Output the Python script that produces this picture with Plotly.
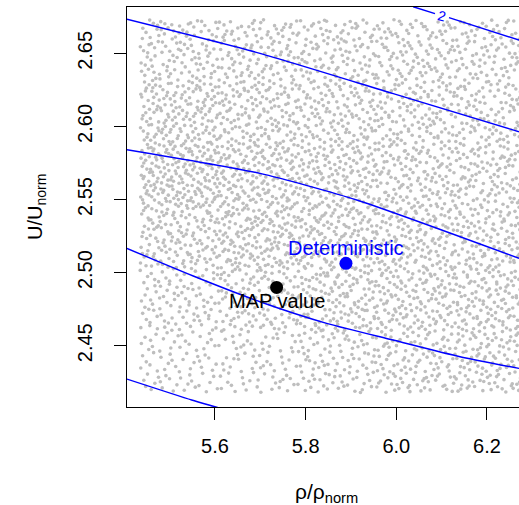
import numpy as np
import plotly.graph_objects as go

# ---------------- data ----------------
# Sample cloud: estimated point counts per cell (rows bottom -> top, columns left -> right)
cloud_rho_edges = [5.435, 5.608, 5.781, 5.954, 6.127, 6.300]
cloud_u_edges = [2.418, 2.4605, 2.503, 2.5455, 2.588, 2.6305, 2.673]
cloud_counts = [
    [72, 75, 96, 114, 127],
    [96, 114, 139, 139, 139],
    [139, 165, 152, 139, 131],
    [190, 165, 147, 131, 127],
    [152, 139, 127, 122, 114],
    [114, 114, 114, 114, 107],
]

# Contour lines (blue)
contour2_rho = [6.0372, 6.0853, None, 6.1162, 6.2706]
contour2_u = [2.6819, 2.6772, None, 2.6744, 2.6591]
contourA_rho = [5.4059, 5.6993, 5.9933, 6.2706]
contourA_u = [2.6733, 2.6500, 2.6224, 2.5964]
contourB_rho = [5.4059, 5.6993, 5.9126, 6.2706]
contourB_u = [2.5841, 2.5679, 2.5497, 2.5098]
contourC_rho = [5.4059, 5.5521, 5.6993, 5.8464, 5.9927, 6.1405, 6.2706]
contourC_u = [2.5166, 2.4977, 2.4801, 2.4653, 2.4539, 2.4425, 2.4345]
contourD_rho = [5.4059, 5.5486, 5.6000, 5.6221]
contourD_u = [2.4272, 2.4129, 2.4083, 2.4063]
contour_label_text = "2"
contour_label_rho = 6.1001
contour_label_u = 2.6755

# Highlighted points
det_rho, det_u = 5.889, 2.5064
map_rho, map_u = 5.736, 2.4899

x_tickvals = [5.6, 5.8, 6.0, 6.2]
x_ticktext = ["5.6", "5.8", "6.0", "6.2"]
y_tickvals = [2.45, 2.50, 2.55, 2.60, 2.65]
y_ticktext = ["2.45", "2.50", "2.55", "2.60", "2.65"]


# ---------------- build cloud (deterministic low-discrepancy fill of each cell) ----------------
def halton(i, b):
    f, r = 1.0, 0.0
    while i > 0:
        f /= b
        r += f * (i % b)
        i //= b
    return r


cx, cy = [], []
idx = 1
for r in range(len(cloud_u_edges) - 1):
    for c in range(len(cloud_rho_edges) - 1):
        n = cloud_counts[r][c]
        x0, x1 = cloud_rho_edges[c], cloud_rho_edges[c + 1]
        y0, y1 = cloud_u_edges[r], cloud_u_edges[r + 1]
        for k in range(n):
            cx.append(x0 + (x1 - x0) * halton(idx, 2))
            cy.append(y0 + (y1 - y0) * halton(idx, 3))
            idx += 1

FONT = "Liberation Sans, Arial, Helvetica, sans-serif"
BLUE = "#0000FF"
FS = 20

fig = go.Figure()
fig.add_trace(go.Scatter(x=cx, y=cy, mode="markers",
                         marker=dict(size=3.6, color="#BEBEBE", line=dict(width=0)),
                         hoverinfo="skip"))

for xs, ys in [(contour2_rho, contour2_u), (contourA_rho, contourA_u),
               (contourB_rho, contourB_u), (contourC_rho, contourC_u),
               (contourD_rho, contourD_u)]:
    fig.add_trace(go.Scatter(x=xs, y=ys, mode="lines",
                             line=dict(color=BLUE, width=1.4, shape="spline", smoothing=0.6),
                             connectgaps=False, hoverinfo="skip"))

fig.add_trace(go.Scatter(x=[det_rho], y=[det_u], mode="markers",
                         marker=dict(size=13, color=BLUE)))
fig.add_trace(go.Scatter(x=[map_rho], y=[map_u], mode="markers",
                         marker=dict(size=13, color="black")))

annotations = [
    dict(x=det_rho, y=det_u, text="Deterministic", showarrow=False, yshift=15,
         font=dict(family=FONT, size=FS, color=BLUE)),
    dict(x=map_rho, y=map_u, text="MAP value", showarrow=False, yshift=-14,
         font=dict(family=FONT, size=FS, color="black")),
    dict(x=contour_label_rho, y=contour_label_u, text=contour_label_text, showarrow=False,
         textangle=15, font=dict(family=FONT, size=14, color=BLUE)),
    dict(xref="paper", yref="paper", x=-0.232, y=0.5, text="U/U<sub>norm</sub>",
         showarrow=False, textangle=-90, xanchor="center", yanchor="middle",
         font=dict(family=FONT, size=FS, color="black")),
    dict(xref="paper", yref="paper", x=0.510, y=-0.215, text="ρ/ρ<sub>norm</sub>",
         showarrow=False, xanchor="center", yanchor="middle",
         font=dict(family=FONT, size=21, color="black")),
]

fig.update_layout(
    width=519, height=505,
    margin=dict(l=127, r=0, t=7, b=98),
    paper_bgcolor="white", plot_bgcolor="white",
    showlegend=False,
    annotations=annotations,
    font=dict(family=FONT, size=FS, color="black"),
)
fig.update_xaxes(range=[5.406, 6.2706], tickvals=x_tickvals, ticktext=x_ticktext,
                 ticks="outside", ticklen=12, tickwidth=1, tickcolor="black",
                 showline=True, linecolor="black", linewidth=1, mirror=True,
                 showgrid=False, zeroline=False, ticklabelstandoff=9,
                 tickfont=dict(family=FONT, size=FS, color="black"))
fig.update_yaxes(range=[2.4081, 2.6817], tickvals=y_tickvals, ticktext=y_ticktext,
                 tickangle=-90,
                 ticks="outside", ticklen=12, tickwidth=1, tickcolor="black",
                 showline=True, linecolor="black", linewidth=1, mirror=False,
                 showgrid=False, zeroline=False, ticklabelstandoff=14,
                 tickfont=dict(family=FONT, size=FS, color="black"))

fig.write_html("out.html")
